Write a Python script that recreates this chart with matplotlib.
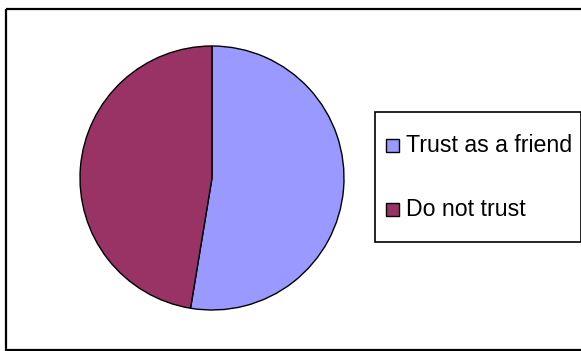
import matplotlib.pyplot as plt
from matplotlib.patches import Rectangle

plt.rcParams['font.family'] = ['Liberation Sans', 'DejaVu Sans']

labels = ['Trust as a friend', 'Do not trust']
values = [52.6, 47.4]
colors = ['#9999FF', '#993366']

W, H = 581, 351
fig = plt.figure(figsize=(W / 100, H / 100), dpi=100)

# overlay in pixel coords for the chart frame and the legend box
bg = fig.add_axes([0, 0, 1, 1])
bg.set_xlim(0, W)
bg.set_ylim(H, 0)
bg.axis('off')
bg.add_patch(Rectangle((6, 9), 600, 341, fill=False, ec='black', lw=1.6))
bg.add_patch(Rectangle((374.5, 112), 206, 130, fill=False, ec='black', lw=1.2))

for i, (lab, col) in enumerate(zip(labels, colors)):
    yc = 145.5 + i * 64
    bg.add_patch(Rectangle((386, yc - 6.5), 13, 13, fc=col, ec='black', lw=1.0))
    bg.text(406, yc + 6.8, lab, fontsize=16.7, va='baseline', ha='left', color='black')

# pie, centre ~ (212, 178) px, radius ~132 px
r = 132
cx, cy = 212, 178
ax = fig.add_axes([(cx - r) / W, (H - cy - r) / H, 2 * r / W, 2 * r / H])
ax.pie(values, colors=colors, startangle=90, counterclock=False,
       wedgeprops=dict(edgecolor='black', linewidth=1.0))
ax.set_xlim(-1, 1)
ax.set_ylim(-1, 1)
ax.set_aspect('equal')

fig.savefig('out.png', dpi=100)
